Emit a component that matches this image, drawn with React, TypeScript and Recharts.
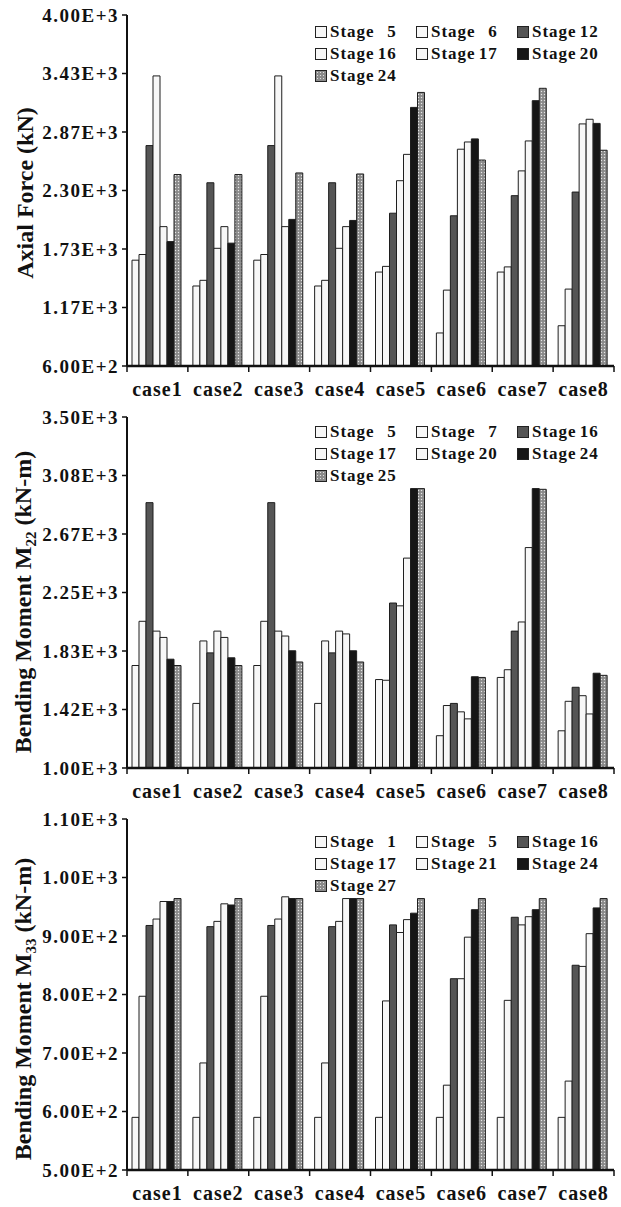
import React from 'react';
import { BarChart, Bar, XAxis, YAxis } from 'recharts';

const CATEGORIES = ['case1', 'case2', 'case3', 'case4', 'case5', 'case6', 'case7', 'case8'];

// Axial force (kN)
const axialStages = ['5', '6', '12', '16', '17', '20', '24'];
const axialS5 = [1625, 1375, 1625, 1375, 1510, 920, 1510, 990];
const axialS6 = [1680, 1430, 1680, 1430, 1565, 1335, 1560, 1345];
const axialS12 = [2735, 2375, 2735, 2375, 2080, 2055, 2250, 2285];
const axialS16 = [3410, 1740, 3410, 1740, 2395, 2700, 2490, 2945];
const axialS17 = [1950, 1950, 1950, 1950, 2650, 2770, 2780, 2990];
const axialS20 = [1805, 1790, 2020, 2010, 3105, 2800, 3170, 2950];
const axialS24 = [2455, 2455, 2470, 2460, 3250, 2595, 3290, 2690];
const axialTicks = [600, 1166.67, 1733.33, 2300, 2866.67, 3433.33, 4000];

// Bending moment M22 (kN-m)
const m22Stages = ['5', '7', '16', '17', '20', '24', '25'];
const m22S5 = [1730, 1460, 1730, 1460, 1630, 1230, 1645, 1265];
const m22S7 = [2045, 1905, 2045, 1905, 1625, 1445, 1700, 1475];
const m22S16 = [2890, 1820, 2890, 1820, 2175, 1460, 1975, 1575];
const m22S17 = [1975, 1975, 1975, 1975, 2155, 1400, 2040, 1515];
const m22S20 = [1930, 1930, 1940, 1955, 2495, 1350, 2570, 1385];
const m22S24 = [1775, 1785, 1835, 1835, 2990, 1650, 2990, 1675];
const m22S25 = [1730, 1730, 1755, 1755, 2990, 1645, 2985, 1660];
const m22Ticks = [1000, 1416.67, 1833.33, 2250, 2666.67, 3083.33, 3500];

// Bending moment M33 (kN-m)
const m33Stages = ['1', '5', '16', '17', '21', '24', '27'];
const m33S1 = [590, 590, 590, 590, 590, 590, 590, 590];
const m33S5 = [797, 683, 797, 683, 789, 645, 790, 652];
const m33S16 = [918, 916, 918, 916, 919, 827, 932, 850];
const m33S17 = [929, 925, 929, 925, 906, 827, 919, 848];
const m33S21 = [959, 955, 967, 964, 928, 898, 933, 904];
const m33S24 = [959, 953, 964, 964, 939, 945, 945, 948];
const m33S27 = [964, 964, 964, 964, 964, 964, 964, 964];
const m33Ticks = [500, 600, 700, 800, 900, 1000, 1100];

const W = 621;
const H = 402;
const LEFT = 127;
const RIGHT = 7;
const BAND = (W - LEFT - RIGHT) / CATEGORIES.length;
const FONT = '"Liberation Serif", "DejaVu Serif", serif';

// white, white, dark grey, white, white, black, dotted grey
const STYLES = ['#f7f7f7', '#f7f7f7', '#555555', '#f7f7f7', '#f7f7f7', '#161616', 'dots'];

const fmt = (v: number) => v.toExponential(2).toUpperCase();

function buildRows(series: number[][]) {
  return CATEGORIES.map((c, i) => {
    const row: Record<string, any> = { name: c };
    series.forEach((s, k) => (row['s' + k] = s[i]));
    return row;
  });
}

const CaseTick = (props: any) => {
  const { x, y, payload, index } = props;
  const half = BAND / 2;
  return (
    <g>
      <line x1={x - half} x2={x - half} y1={y} y2={y + 6} stroke="#111" strokeWidth={1.5} />
      {index === CATEGORIES.length - 1 && (
        <line x1={x + half} x2={x + half} y1={y} y2={y + 6} stroke="#111" strokeWidth={1.5} />
      )}
      <text
        x={x}
        y={y + 30}
        textAnchor="middle"
        fill="#111"
        fontSize={20}
        fontWeight={700}
        fontFamily={FONT}
        letterSpacing={1}
      >
        {payload.value}
      </text>
    </g>
  );
};

function LegendBox({ style }: { style: string }) {
  const bg =
    style === 'dots'
      ? { background: '#8a8a8a', backgroundImage: 'radial-gradient(#e0e0e0 0.8px, transparent 1px)', backgroundSize: '3px 3px' }
      : { background: style };
  return (
    <span
      style={{
        display: 'inline-block',
        width: 10,
        height: 10,
        border: '1px solid #222',
        marginRight: 3,
        ...bg,
      }}
    />
  );
}

interface PanelProps {
  id: string;
  top: number;
  series: number[][];
  stages: string[];
  ticks: number[];
  legendTop: number;
  labelY: number;
  label: React.ReactNode;
}

function Panel({ id, top, series, stages, ticks, legendTop, labelY, label }: PanelProps) {
  const rows = buildRows(series);
  const cols = [315, 416, 517];
  return (
    <div style={{ position: 'absolute', left: 0, top, width: W, height: H }}>
      <BarChart
        width={W}
        height={H}
        data={rows}
        margin={{ top: 15, right: RIGHT, bottom: 0, left: 0 }}
        barCategoryGap={5}
        barGap={0}
      >
        <defs>
          <pattern id={id + '-dots'} width="3" height="3" patternUnits="userSpaceOnUse">
            <rect width="3" height="3" fill="#8a8a8a" />
            <circle cx="1.5" cy="1.5" r="0.7" fill="#e6e6e6" />
          </pattern>
        </defs>
        <XAxis
          dataKey="name"
          height={36}
          tickSize={0}
          tickMargin={0}
          tickLine={false}
          interval={0}
          axisLine={{ stroke: '#111', strokeWidth: 2.5 }}
          tick={<CaseTick />}
        />
        <YAxis
          width={LEFT}
          type="number"
          domain={[ticks[0], ticks[ticks.length - 1]]}
          ticks={ticks}
          interval={0}
          allowDataOverflow
          tickFormatter={fmt}
          tickSize={5}
          tickMargin={3}
          axisLine={{ stroke: '#111', strokeWidth: 2 }}
          tickLine={{ stroke: '#111', strokeWidth: 1.5 }}
          tick={{ fill: '#111', fontSize: 19, fontWeight: 700, fontFamily: FONT, letterSpacing: 1.5 }}
        />
        {series.map((_, k) => (
          <Bar
            key={k}
            dataKey={'s' + k}
            name={'Stage ' + stages[k]}
            fill={STYLES[k] === 'dots' ? `url(#${id}-dots)` : STYLES[k]}
            stroke="#1e1e1e"
            strokeWidth={1}
            isAnimationActive={false}
          />
        ))}
      </BarChart>

      {stages.map((st, k) => (
        <div
          key={k}
          style={{
            position: 'absolute',
            left: cols[k % 3],
            top: legendTop + Math.floor(k / 3) * 22 - 11,
            height: 22,
            lineHeight: '22px',
            display: 'flex',
            alignItems: 'center',
            fontFamily: FONT,
            fontWeight: 700,
            fontSize: 17,
            letterSpacing: 1,
            color: '#111',
            whiteSpace: 'nowrap',
          }}
        >
          <LegendBox style={STYLES[k]} />
          <span>Stage</span>
          <span style={{ display: 'inline-block', width: 22, textAlign: 'right' }}>{st}</span>
        </div>
      ))}

      <div
        style={{
          position: 'absolute',
          left: 25,
          top: labelY,
          transform: 'translate(-50%, -50%) rotate(-90deg)',
          whiteSpace: 'nowrap',
          fontFamily: FONT,
          fontWeight: 700,
          fontSize: 24,
          color: '#111',
        }}
      >
        {label}
      </div>
    </div>
  );
}

export default function App() {
  return (
    <div style={{ position: 'absolute', left: 0, top: 0, width: W, height: 1207, background: '#fff' }}>
      <Panel
        id="axial"
        top={0}
        series={[axialS5, axialS6, axialS12, axialS16, axialS17, axialS20, axialS24]}
        stages={axialStages}
        ticks={axialTicks}
        legendTop={32}
        labelY={193}
        label="Axial Force (kN)"
      />
      <Panel
        id="m22"
        top={402}
        series={[m22S5, m22S7, m22S16, m22S17, m22S20, m22S24, m22S25]}
        stages={m22Stages}
        ticks={m22Ticks}
        legendTop={30}
        labelY={200}
        label={
          <span>
            Bending Moment M<sub style={{ fontSize: 15 }}>22</sub> (kN-m)
          </span>
        }
      />
      <Panel
        id="m33"
        top={804}
        series={[m33S1, m33S5, m33S16, m33S17, m33S21, m33S24, m33S27]}
        stages={m33Stages}
        ticks={m33Ticks}
        legendTop={38}
        labelY={205}
        label={
          <span>
            Bending Moment M<sub style={{ fontSize: 15 }}>33</sub> (kN-m)
          </span>
        }
      />
    </div>
  );
}
